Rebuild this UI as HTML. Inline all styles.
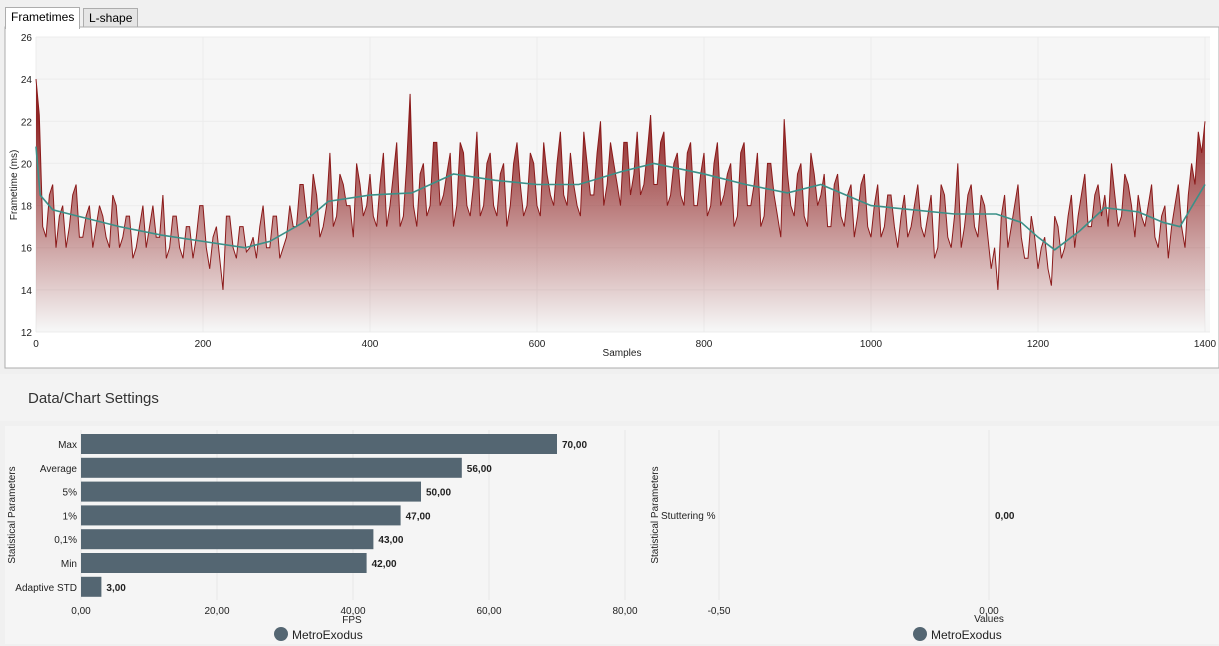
<!DOCTYPE html>
<html><head><meta charset="utf-8"><style>
body{margin:0;width:1219px;height:646px;background:#f0f0f0;font-family:"Liberation Sans",sans-serif;overflow:hidden;position:relative}
.tab{position:absolute;top:8px;height:19px;font-size:12px;line-height:19px;padding:0 5px;border:1px solid #adadad;border-bottom:none}
svg{position:absolute;left:0;top:0}
</style></head><body>
<div class="tab" style="left:5px;background:#fff;top:7px;height:21px;z-index:2">Frametimes</div>
<div class="tab" style="left:83px;background:#e5e5e5;">L-shape</div>
<svg width="1219" height="646" id="svg">
<defs><linearGradient id="fg" gradientUnits="userSpaceOnUse" x1="0" y1="120" x2="0" y2="330">
<stop offset="0" stop-color="#8b1c1c" stop-opacity="0.95"/><stop offset="1" stop-color="#8b1c1c" stop-opacity="0"/></linearGradient></defs>
<rect x="5" y="27" width="1214" height="341" fill="#fff" stroke="#adadad"/>
<rect x="36" y="37" width="1174" height="295" fill="#f6f6f6"/>
<g id="ft"></g>
<rect x="0" y="374" width="1219" height="47" fill="#f3f3f3"/>
<text x="28" y="403" font-size="15" fill="#333">Data/Chart Settings</text>
<rect x="5" y="426" width="1214" height="218" fill="#f5f5f5"/>
<g id="bars"></g>
</svg>
<script>
const NS="http://www.w3.org/2000/svg";
function mk(p,t,a){const e=document.createElementNS(NS,t);for(const k in a)e.setAttribute(k,a[k]);p.appendChild(e);return e;}
// frametime data: values at samples 0,8,16,... and at 4,12,20,...
const rawStep=8;
const rawValues=[24,17,18.5,16,18,17,19,16.5,18,17,
17.5,16,18,16.5,17.5,16,18,17,16.5,18.5,
16,17.5,15.5,17,16.5,18,15,17,14,17.5,
15.5,17,16,15.5,18,16,17.5,16,18,17,
19,17,18.5,17,20.5,17.5,19,18,20,17.5,
19.5,17,20.5,18,21,17.5,23.3,17,20,18,
21,18.5,20.5,18,20.5,17.5,21.5,18,20.5,17.5,
20,18,21,17.5,20.5,18,21,18.5,20,18.5,
20.5,18,21.5,18.5,20.5,18,21,19,21,18.5,
21.5,19,22.3,19,21.5,18.5,20.5,18,21,18,
20.5,18,21,18.5,20,17.5,21,18,20.5,17.5,
20,17.5,22.1,18,19.5,17.5,20.5,18,19.5,17,
19.5,17,19,17.5,19.5,16.5,19,17,18.5,16,
18.5,17,19,16.5,18.5,16,18.5,16,20,17,
19,16.5,18,15,14,18.5,17,19,15.5,17.5,
15,16.5,14.2,17,16,18.5,17.5,19.5,17,19,
18.5,20,17,19.5,18,18.5,17,19,16,18,
17,19,16,20,21.5,22];
const midValues=[22.3,16.5,19,17.5,16,18.5,16.5,17.5,16,18,
16.5,18.5,16,17.5,15.5,17,16,18,16.5,15.5,
17.5,16,17,15.5,18,16,16.5,15.5,17.5,16,
17,15.8,16.5,17,16,17.5,15.5,16.5,17,19,
17.5,19.5,16.5,18,17,19.5,18,16.5,19,18,
17.5,19,17,19.5,17,20,18,19.5,17.5,21,
18,19.5,17,21,18,19,17.5,20,18,19.5,
17,20,19,18,20,17.5,19.5,18,21.5,18,
19,17.5,20,18.5,22,19,20,18,21,19.5,
18.5,20.5,19,21,18,20,18.5,20.5,18,19.5,
17.5,20,18,19.5,17,20.5,18,19,17,20,
18.5,16.5,19.5,17.5,20,17,19.5,18.5,17,19,
17.5,18.5,16.5,19,17,18,16.5,18.5,17,17.5,
16.5,18,17,17.5,15.5,19,16.5,17.5,16,18.5,
17,18.5,16.5,16,17.5,16,18,16.5,15.5,16.5,
16,15,17.5,15.5,17.5,16,18.5,17,18.5,17.5,
17,18.5,17.5,19,16.5,17.5,18,16.5,17.5,15.5,
18,17,18.5,19,20.5];
const smoothX=[0,5,20,50,100,150,200,250,280,320,350,400,450,500,550,600,650,700,740,800,850,900,940,1000,1050,1100,1150,1180,1200,1220,1250,1280,1320,1350,1370,1400];
const smoothY=[20.8,18.5,17.8,17.5,17.0,16.6,16.3,16.0,16.3,17.2,18.2,18.5,18.6,19.5,19.2,19.0,19.0,19.6,20.0,19.5,19.0,18.6,19.0,18.0,17.8,17.6,17.6,17.2,16.5,15.9,16.8,17.9,17.7,17.2,17.0,19.0];
const yTicks=[12,14,16,18,20,22,24,26];
const xTicks=[0,200,400,600,800,1000,1200,1400];
const X=s=>36+s*(1205-36)/1400, Y=v=>332-(v-12)*295/14;
const ft=document.getElementById('ft');
xTicks.forEach(t=>{const l=mk(ft,'line',{x1:X(t),x2:X(t),y1:37,y2:332,stroke:'#ececec'});

const tx=mk(ft,'text',{x:X(t),y:347,'font-size':10,'text-anchor':'middle',fill:'#222'});tx.textContent=t;
});
yTicks.forEach(t=>{const l=mk(ft,'line',{x1:36,x2:1210,y1:Y(t),y2:Y(t),stroke:'#ececec'});

const tx=mk(ft,'text',{x:32,y:Y(t)+4,'font-size':10,'text-anchor':'end',fill:'#222'});tx.textContent=t;
});
const series=[];
rawValues.forEach((v,i)=>{series.push([i*rawStep,v]);if(i<midValues.length)series.push([i*rawStep+rawStep/2,midValues[i]]);});
let pts=series.map(([s,v])=>X(s).toFixed(1)+','+Y(v).toFixed(1));
const lastS=series[series.length-1][0];
const area=mk(ft,'path',{d:'M'+X(0)+','+Y(12)+' L'+pts.join(' L')+' L'+X(lastS)+','+Y(12)+'Z',fill:'url(#fg)'});

const rl=mk(ft,'polyline',{points:pts.join(' '),fill:'none',stroke:'#8b1a1a','stroke-width':1});

const sl=mk(ft,'polyline',{points:smoothX.map((s,i)=>X(s)+','+Y(smoothY[i])).join(' '),fill:'none',stroke:'#3a9088','stroke-width':1.6});

let t1=mk(ft,'text',{x:622,y:356,'font-size':10,'text-anchor':'middle',fill:'#222'});t1.textContent='Samples';

let t2=mk(ft,'text',{x:17,y:185,'font-size':10,'text-anchor':'middle',fill:'#222',transform:'rotate(-90 17 185)'});t2.textContent='Frametime (ms)';


// bar chart data
const statCats=['Max','Average','5%','1%','0,1%','Min','Adaptive STD'];
const statVals=[70,56,50,47,43,42,3];
const fpsTicks=[0,20,40,60,80];
const fpsLabels=['0,00','20,00','40,00','60,00','80,00'];
const B=document.getElementById('bars');
const BX=v=>81+v*(625-81)/80;
fpsTicks.forEach((t,i)=>{const l=mk(B,'line',{x1:BX(t),x2:BX(t),y1:430,y2:600,stroke:'#e6e6e6'});

const tx=mk(B,'text',{x:BX(t),y:614,'font-size':10,'text-anchor':'middle',fill:'#222'});tx.textContent=fpsLabels[i];
});
statCats.forEach((c,i)=>{const cy=444+i*23.8;
const r=mk(B,'rect',{x:BX(0),y:cy-10,width:BX(statVals[i])-BX(0),height:20,fill:'#546672'});

const lb=mk(B,'text',{x:77,y:cy+4,'font-size':10,'text-anchor':'end',fill:'#222'});lb.textContent=c;

const vl=mk(B,'text',{x:BX(statVals[i])+5,y:cy+4,'font-size':10,'font-weight':'bold',fill:'#222'});vl.textContent=statVals[i].toFixed(2).replace('.',',');
});
let a1=mk(B,'text',{x:352,y:623,'font-size':10,'text-anchor':'middle',fill:'#222'});a1.textContent='FPS';

let a2=mk(B,'text',{x:15,y:515,'font-size':10,'text-anchor':'middle',fill:'#222',transform:'rotate(-90 15 515)'});a2.textContent='Statistical Parameters';

// stuttering chart
const stutCats=['Stuttering %'];
const stutVals=[0];
const stutTicks=[-0.5,0];
const SX=v=>989+v*(989-719)/0.5;
stutTicks.forEach(t=>{const l=mk(B,'line',{x1:SX(t),x2:SX(t),y1:430,y2:600,stroke:'#e6e6e6'});

const tx=mk(B,'text',{x:SX(t),y:614,'font-size':10,'text-anchor':'middle',fill:'#222'});tx.textContent=t.toFixed(2).replace('.',',');
});
stutCats.forEach((c,i)=>{const lb=mk(B,'text',{x:661,y:519,'font-size':10,fill:'#222'});lb.textContent=c;

const vl=mk(B,'text',{x:SX(stutVals[i])+6,y:519,'font-size':10,'font-weight':'bold',fill:'#222'});vl.textContent=stutVals[i].toFixed(2).replace('.',',');
});
let a3=mk(B,'text',{x:989,y:622,'font-size':10,'text-anchor':'middle',fill:'#222'});a3.textContent='Values';

let a4=mk(B,'text',{x:658,y:515,'font-size':10,'text-anchor':'middle',fill:'#222',transform:'rotate(-90 658 515)'});a4.textContent='Statistical Parameters';

[[281,'legend-fps'],[920,'legend-stutter']].forEach(([x,n])=>{
const c=mk(B,'circle',{cx:x,cy:634,r:7,fill:'#546672'});
const t=mk(B,'text',{x:x+11,y:639,'font-size':12,fill:'#222'});t.textContent='MetroExodus';
});
</script>
</body></html>
